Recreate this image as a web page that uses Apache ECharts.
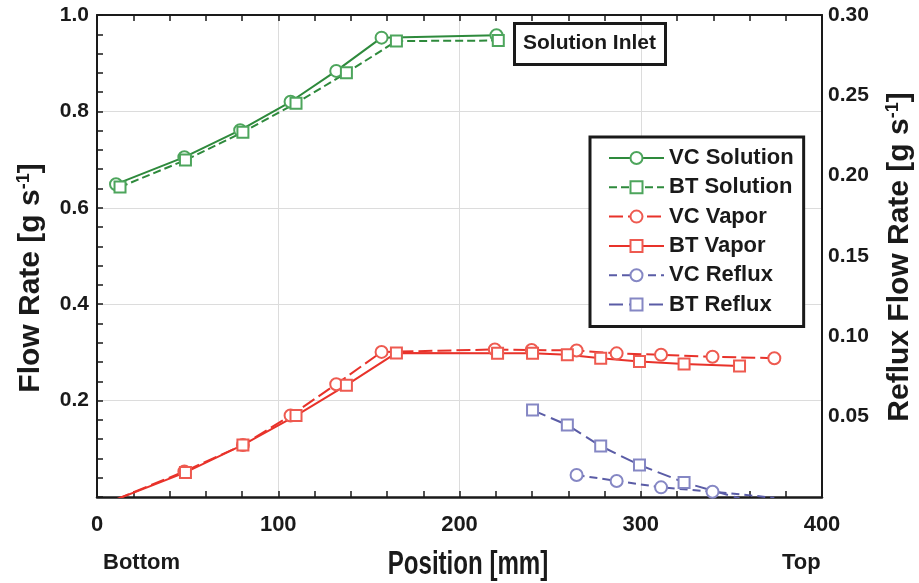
<!DOCTYPE html>
<html>
<head>
<meta charset="utf-8">
<script src="https://cdn.jsdelivr.net/npm/echarts@6/dist/echarts.min.js"></script>
<style>
  html, body { margin: 0; padding: 0; background: #fff; }
  #chart { width: 919px; height: 583px; }
</style>
</head>
<body>
<div id="chart"></div>
<script>
// position [mm] / flow rate [g s-1]
const vcSolutionX = [10.5, 48.2, 79.0, 106.8, 132.0, 157.0, 220.4]
const vcSolutionY = [0.649, 0.705, 0.761, 0.820, 0.884, 0.953, 0.958]
const btSolutionX = [12.7, 48.8, 80.5, 109.8, 137.6, 165.2, 221.4]
const btSolutionY = [0.643, 0.699, 0.757, 0.817, 0.880, 0.946, 0.947]
const vcVaporX = [10.5, 48.2, 80.5, 106.8, 132.0, 157.0, 219.5, 239.8, 264.6, 286.7, 311.2, 339.6, 373.7]
const vcVaporY = [-0.005, 0.053, 0.108, 0.169, 0.234, 0.301, 0.306, 0.305, 0.304, 0.298, 0.295, 0.291, 0.288]
const btVaporX = [12.7, 48.8, 80.5, 109.8, 137.6, 165.2, 221.0, 240.3, 259.5, 277.9, 299.3, 323.9, 354.5]
const btVaporY = [-0.002, 0.051, 0.108, 0.169, 0.232, 0.299, 0.298, 0.298, 0.295, 0.288, 0.281, 0.276, 0.272]
// reflux uses the right axis
const vcRefluxX = [264.6, 286.7, 311.2, 339.6, 373.7]
const vcRefluxY = [0.0137, 0.0100, 0.0060, 0.0033, -0.0005]
const btRefluxX = [240.3, 259.5, 277.9, 299.3, 323.9, 354.5]
const btRefluxY = [0.0541, 0.0448, 0.0317, 0.0199, 0.0091, -0.0008]

const GREEN = '#2e8a3c'; const GREEN_MK = '#4da55c'
const RED = '#e8322a'; const RED_MK = '#ee5a50'
const BLUE = '#5a5ca6'; const BLUE_MK = '#8587c4'
const INK = '#1a1a1a'
const FONT = "'Liberation Sans', Arial, sans-serif"

function zip (xs, ys) {
  return xs.map((x, i) => [x, ys[i]])
}

function makeSeries (name, xs, ys, symbol, lineColor, markColor, dash, yIdx) {
  return {
    name: name,
    type: 'line',
    yAxisIndex: yIdx,
    data: zip(xs, ys),
    symbol: symbol,
    symbolSize: symbol === 'emptyCircle' ? 12 : 11,
    clip: true,
    lineStyle: { color: lineColor, width: 2, type: dash },
    itemStyle: { color: markColor, borderWidth: 1.3 },
    emphasis: { disabled: true }
  }
}

// rotated axis titles with a superscript
const nameRich = {
  a: { fontFamily: FONT, fontWeight: 'bold', fontSize: 30, fill: INK, color: INK },
  s: { fontFamily: FONT, fontWeight: 'bold', fontSize: 18, fill: INK, color: INK, verticalAlign: 'top', padding: [0, 0, 14, 0] }
}
function axisTitle (text, x, y) {
  return {
    type: 'text',
    x: x,
    y: y,
    rotation: Math.PI / 2,
    style: { text: text, rich: nameRich, align: 'center', verticalAlign: 'middle', fill: INK }
  }
}

const chart = echarts.init(document.getElementById('chart'))

chart.setOption({
  animation: false,
  backgroundColor: '#fff',
  grid: { left: 97, right: 97, top: 15, bottom: 86 },
  title: {
    text: 'Solution Inlet',
    left: 514,
    top: 23,
    padding: [10, 10, 11, 9],
    borderColor: INK,
    borderWidth: 3,
    textStyle: { fontFamily: FONT, fontWeight: 'bold', fontSize: 21, color: INK }
  },
  legend: {
    orient: 'vertical',
    left: 590,
    top: 137,
    padding: [10, 10, 11, 18],
    itemGap: 7.3,
    itemWidth: 55,
    itemHeight: 15,
    borderColor: INK,
    borderWidth: 3,
    backgroundColor: '#fff',
    textStyle: { fontFamily: FONT, fontWeight: 'bold', fontSize: 22, color: INK, lineHeight: 22 }
  },
  xAxis: [{
    type: 'value',
    min: 0,
    max: 400,
    interval: 100,
    axisLine: { onZero: false, lineStyle: { color: INK, width: 2.5 } },
    axisTick: { inside: true, length: 6, lineStyle: { color: INK, width: 1.5 } },
    minorTick: { show: true, splitNumber: 5, length: 6, lineStyle: { color: INK, width: 1.5 } },
    axisLabel: { fontFamily: FONT, fontWeight: 'bold', fontSize: 22, color: INK, margin: 17 },
    splitLine: { show: true, lineStyle: { color: '#dcdcdc', width: 1 } }
  }, {
    type: 'value',
    position: 'top',
    min: 0,
    max: 400,
    interval: 20,
    axisLine: { onZero: false, lineStyle: { color: INK, width: 2 } },
    axisTick: { inside: true, length: 6, lineStyle: { color: INK, width: 1.5 } },
    axisLabel: { show: false },
    splitLine: { show: false }
  }],
  yAxis: [{
    type: 'value',
    min: 0,
    max: 1,
    interval: 0.2,
    axisLine: { onZero: false, lineStyle: { color: INK, width: 2 } },
    axisTick: { inside: true, length: 6, lineStyle: { color: INK, width: 1.5 } },
    minorTick: { show: true, splitNumber: 5, length: 6, lineStyle: { color: INK, width: 1.5 } },
    axisLabel: {
      fontFamily: FONT, fontWeight: 'bold', fontSize: 21, color: INK, margin: 8,
      formatter: v => v === 0 ? '' : v.toFixed(1)
    },
    splitLine: { show: true, lineStyle: { color: '#dcdcdc', width: 1 } }
  }, {
    type: 'value',
    min: 0,
    max: 0.3,
    interval: 0.05,
    position: 'right',
    axisLine: { show: true, onZero: false, lineStyle: { color: INK, width: 2 } },
    axisTick: { show: false },
    axisLabel: {
      fontFamily: FONT, fontWeight: 'bold', fontSize: 21, color: INK, margin: 6,
      formatter: v => v === 0 ? '' : v.toFixed(2)
    },
    splitLine: { show: false }
  }],
  graphic: [
    axisTitle('{a|Flow Rate [g s}{s|-1}{a|]}', 31, 278),
    axisTitle('{a|Reflux Flow Rate [g s}{s|-1}{a|]}', 900, 257),
    {
      type: 'text',
      x: 468,
      y: 565,
      scaleX: 0.73,
      style: { text: 'Position [mm]', font: 'bold 33px ' + FONT, fill: INK, align: 'center', verticalAlign: 'middle' }
    },
    { type: 'text', left: 103, top: 552, style: { text: 'Bottom', font: 'bold 22px ' + FONT, fill: INK } },
    { type: 'text', left: 782, top: 552, style: { text: 'Top', font: 'bold 22px ' + FONT, fill: INK } }
  ],
  series: [
    makeSeries('VC Solution', vcSolutionX, vcSolutionY, 'emptyCircle', GREEN, GREEN_MK, 'solid', 0),
    makeSeries('BT Solution', btSolutionX, btSolutionY, 'emptyRect', GREEN, GREEN_MK, [8, 4], 0),
    makeSeries('VC Vapor', vcVaporX, vcVaporY, 'emptyCircle', RED, RED_MK, [14, 5], 0),
    makeSeries('BT Vapor', btVaporX, btVaporY, 'emptyRect', RED, RED_MK, 'solid', 0),
    makeSeries('VC Reflux', vcRefluxX, vcRefluxY, 'emptyCircle', BLUE, BLUE_MK, [8, 5], 1),
    makeSeries('BT Reflux', btRefluxX, btRefluxY, 'emptyRect', BLUE, BLUE_MK, [14, 6], 1)
  ]
})

window.onresize = () => {
  chart.resize()
}
</script>
</body>
</html>
